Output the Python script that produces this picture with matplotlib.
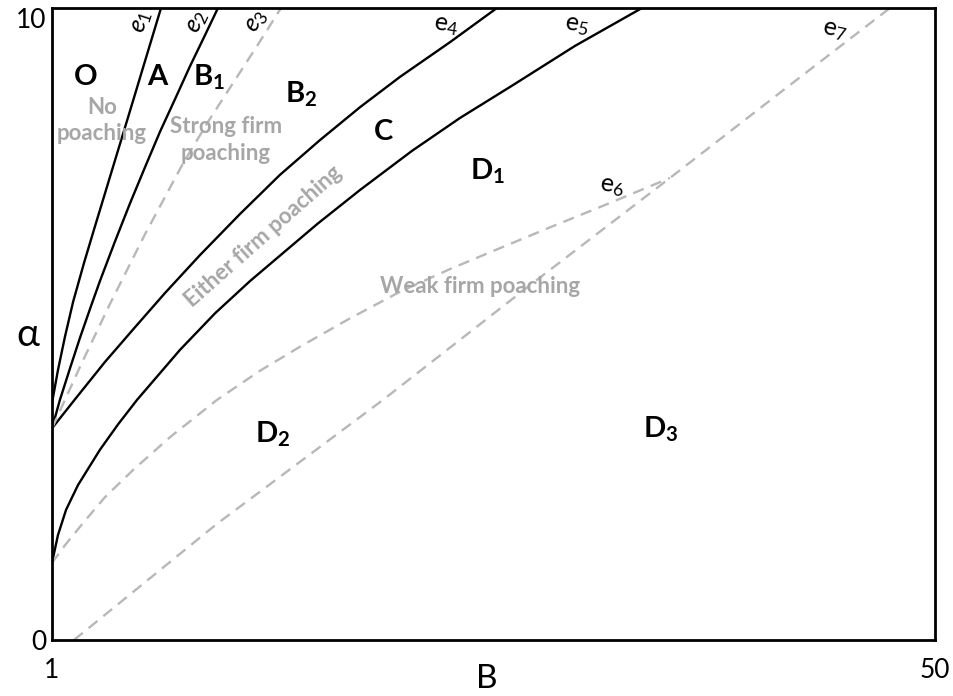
"""
Recreation of the poaching regions diagram (alpha against B).
"""
import matplotlib
matplotlib.use("Agg")
import matplotlib.pyplot as plt

plt.rcParams["font.family"] = ["Lato", "DejaVu Sans"]
plt.rcParams["mathtext.fontset"] = "custom"
plt.rcParams["mathtext.rm"] = "Lato"
plt.rcParams["mathtext.it"] = "Lato:italic"
plt.rcParams["mathtext.bf"] = "Lato:bold"

# boundary curves (B, alpha)
e1_b = [1.00, 1.33, 1.72, 2.17, 2.78, 3.39, 5.22, 7.05]
e1_a = [3.75, 4.27, 4.80, 5.35, 5.97, 6.55, 8.27, 10.0]

e2_b = [1.00, 1.44, 2.00, 2.55, 3.16, 3.66, 4.50, 5.33, 6.16, 6.99, 7.83, 8.66, 9.49, 10.21]
e2_a = [3.35, 3.80, 4.30, 4.78, 5.28, 5.68, 6.31, 6.91, 7.48, 8.04, 8.56, 9.08, 9.57, 10.0]

e3_b = [1.00, 2.55, 4.22, 6.16, 8.27, 9.66, 11.04, 12.38, 13.71]
e3_a = [3.35, 4.32, 5.32, 6.42, 7.54, 8.20, 8.81, 9.40, 10.0]

e4_b = [1.00, 2.28, 3.94, 5.61, 7.27, 9.21, 11.43, 13.65, 15.87, 18.09, 20.31, 23.09, 25.69]
e4_a = [3.35, 3.81, 4.40, 4.95, 5.49, 6.09, 6.74, 7.36, 7.91, 8.43, 8.91, 9.46, 10.0]

e5_b = [1.00, 1.33, 1.78, 2.44, 3.66, 4.66, 5.72, 8.10, 10.05, 11.99, 15.71, 18.09,
        20.98, 23.64, 26.58, 30.02, 33.74]
e5_a = [1.22, 1.66, 2.06, 2.45, 3.01, 3.41, 3.80, 4.59, 5.17, 5.68, 6.58, 7.12,
        7.74, 8.26, 8.78, 9.40, 10.0]

e6_b = [1.00, 1.72, 2.72, 3.94, 5.50, 7.55, 10.16, 12.54, 14.76, 17.54, 20.31, 23.09,
        25.86, 28.64, 31.41, 35.29]
e6_a = [1.22, 1.50, 1.85, 2.26, 2.69, 3.21, 3.80, 4.26, 4.64, 5.09, 5.51, 5.87,
        6.20, 6.53, 6.85, 7.31]

e7_b = [2.22, 10.16, 19.37, 27.69, 35.29, 41.40, 47.50]
e7_a = [0.00, 1.84, 3.80, 5.65, 7.31, 8.66, 10.0]

solid_curves = [(e1_b, e1_a), (e2_b, e2_a), (e4_b, e4_a), (e5_b, e5_a)]
dashed_curves = [(e3_b, e3_a), (e6_b, e6_a), (e7_b, e7_a)]

# region names (left edge, baseline)
region_labels = [r"$\mathbf{O}$", r"$\mathbf{A}$", r"$\mathbf{B_1}$", r"$\mathbf{B_2}$",
                 r"$\mathbf{C}$", r"$\mathbf{D_1}$", r"$\mathbf{D_2}$", r"$\mathbf{D_3}$"]
region_b = [2.17, 6.27, 8.82, 13.93, 18.81, 24.20, 12.27, 33.80]
region_a = [8.78, 8.78, 8.78, 8.50, 7.91, 7.28, 3.13, 3.20]

# grey regime descriptions
regime_labels = ["No\npoaching", "Strong firm\npoaching", "Either firm poaching",
                 "Weak firm poaching"]
regime_b = [3.77, 10.65, 12.71, 24.75]
regime_a = [8.22, 7.91, 6.38, 5.59]
regime_rot = [0, 0, 41.5, 0]

# curve names
curve_labels = [r"$e_1$", r"$e_2$", r"$e_3$", r"$\mathrm{e_4}$", r"$\mathrm{e_5}$",
                r"$\mathrm{e_6}$", r"$\mathrm{e_7}$"]
curve_b = [5.99, 9.05, 12.38, 22.86, 30.13, 32.08, 44.45]
curve_a = [9.79, 9.79, 9.79, 9.73, 9.73, 7.18, 9.65]
curve_rot = [72, 65, 57, -8, -8, -8, -12]

GREY = "#b8b8b8"
TEXT_GREY = "#a6a6a6"

fig = plt.figure(figsize=(9.54, 6.96), dpi=100)
ax = fig.add_axes([52 / 954, 56 / 696, 883 / 954, 632 / 696])

for b, a in solid_curves:
    ax.plot(b, a, color="black", lw=1.7, solid_capstyle="butt", solid_joinstyle="round")
for b, a in dashed_curves:
    ax.plot(b, a, color=GREY, lw=1.7, dashes=(4.8, 3.2))

for text, b, a in zip(region_labels, region_b, region_a):
    ax.text(b, a, text, fontsize=21, ha="left", va="baseline", color="black")

for text, b, a, rot in zip(regime_labels, regime_b, regime_a, regime_rot):
    ax.text(b, a, text, fontsize=16, fontweight="bold", color=TEXT_GREY,
            ha="center", va="center", rotation=rot, linespacing=1.35,
            rotation_mode="anchor")

for text, b, a, rot in zip(curve_labels, curve_b, curve_a, curve_rot):
    ax.text(b, a, text, fontsize=18, ha="center", va="center", rotation=rot,
            color="black")

ax.set_xlim(1, 50)
ax.set_ylim(0, 10)
ax.set_xticks([1, 50])
ax.set_xticklabels(["1", "50"])
ax.set_yticks([0, 10])
ax.set_yticklabels(["0", "10"])
ax.tick_params(axis="x", length=0, pad=13, labelsize=19)
ax.tick_params(axis="y", length=0, pad=4, labelsize=19)
ax.yaxis.get_major_ticks()[1].label1.set_va("top")

for spine in ax.spines.values():
    spine.set_linewidth(2.0)

ax.set_xlabel("B", fontsize=24)
ax.xaxis.set_label_coords(0.492, -0.038)
ax.xaxis.label.set_va("top")
ax.set_ylabel("α", fontsize=28, rotation=0, ha="center", va="center")
ax.yaxis.set_label_coords(-0.027, 0.483)

fig.savefig("out.png", dpi=100)
plt.close(fig)
